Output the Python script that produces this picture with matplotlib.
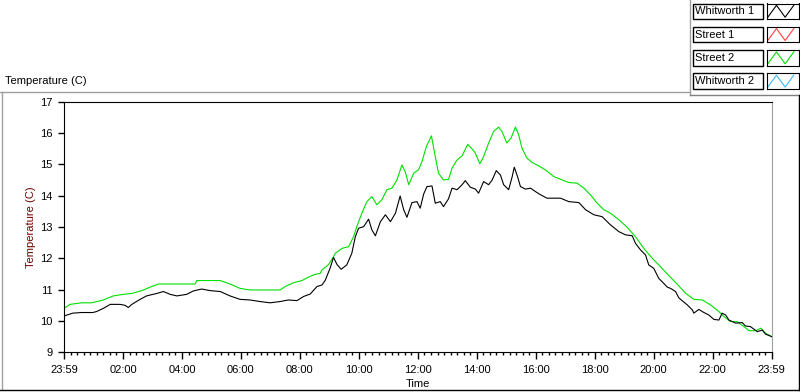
import matplotlib
matplotlib.use('Agg')
import matplotlib.pyplot as plt
from matplotlib.lines import Line2D
from matplotlib.patches import Rectangle
from matplotlib.ticker import MultipleLocator

# data (hours since 23:59, deg C)
w1_t = [0.0, 0.3, 0.6, 0.98, 1.1, 1.33, 1.57, 1.9, 2.07, 2.18, 2.3, 2.58, 2.8, 3.15,
        3.37, 3.6, 3.83, 4.16, 4.39, 4.67, 4.95, 5.3, 5.63, 5.97, 6.31, 6.65, 6.99,
        7.33, 7.6, 7.9, 8.12, 8.35, 8.58, 8.75, 8.86, 9.03, 9.14, 9.26, 9.4, 9.59,
        9.76, 9.88, 9.99, 10.16, 10.33, 10.44, 10.56, 10.73, 10.9, 11.07, 11.24,
        11.4, 11.52, 11.63, 11.8, 11.97, 12.08, 12.2, 12.31, 12.48, 12.59, 12.76,
        12.87, 13.04, 13.16, 13.33, 13.5, 13.61, 13.78, 13.95, 14.06, 14.23, 14.4,
        14.52, 14.66, 14.8, 14.91, 15.08, 15.2, 15.27, 15.38, 15.48, 15.65, 15.82,
        15.99, 16.16, 16.38, 16.61, 16.84, 17.12, 17.46, 17.69, 17.97, 18.25, 18.53,
        18.82, 19.04, 19.27, 19.38, 19.55, 19.72, 19.83, 20.0, 20.17, 20.34, 20.46,
        20.57, 20.74, 20.85, 20.91, 21.14, 21.31, 21.36, 21.53, 21.7, 21.87, 22.04,
        22.21, 22.32, 22.44, 22.55, 22.78, 23.0, 23.11, 23.28, 23.51, 23.68, 23.79, 24.0]
w1_v = [10.16, 10.25, 10.27, 10.27, 10.3, 10.4, 10.53, 10.53, 10.5, 10.43, 10.53, 10.69,
        10.8, 10.88, 10.94, 10.85, 10.8, 10.85, 10.96, 11.02, 10.97, 10.94, 10.8, 10.69,
        10.67, 10.62, 10.58, 10.62, 10.67, 10.65, 10.78, 10.86, 11.1, 11.15, 11.3, 11.7,
        12.03, 11.8, 11.65, 11.79, 12.16, 12.69, 12.96, 13.01, 13.25, 12.91, 12.72, 13.17,
        13.39, 13.17, 13.44, 13.99, 13.55, 13.31, 13.78, 13.81, 13.6, 14.06, 14.29, 14.31,
        13.76, 13.81, 13.65, 13.9, 14.24, 14.19, 14.35, 14.48, 14.27, 14.21, 14.08, 14.45,
        14.35, 14.5, 14.8, 14.66, 14.35, 14.19, 14.61, 14.91, 14.61, 14.29, 14.21, 14.24,
        14.13, 14.03, 13.92, 13.92, 13.92, 13.81, 13.78, 13.55, 13.39, 13.33, 13.07, 12.85,
        12.75, 12.72, 12.48, 12.27, 12.11, 11.79, 11.68, 11.36, 11.2, 11.08, 11.04, 10.94,
        10.74, 10.69, 10.51, 10.35, 10.25, 10.37, 10.27, 10.19, 10.05, 10.03, 10.25, 10.19,
        10.03, 9.93, 9.95, 9.84, 9.82, 9.66, 9.71, 9.58, 9.5]

s2_t = [0.0, 0.2, 0.6, 0.94, 1.33, 1.67, 2.01, 2.3, 2.64, 2.92, 3.2, 4.45, 4.5, 5.3,
        5.63, 5.97, 6.31, 7.33, 7.5, 7.78, 8.07, 8.29, 8.52, 8.69, 8.75, 8.97, 9.14,
        9.2, 9.43, 9.65, 9.82, 9.93, 10.1, 10.27, 10.44, 10.61, 10.78, 10.95, 11.12,
        11.29, 11.46, 11.57, 11.69, 11.86, 12.02, 12.14, 12.29, 12.46, 12.59, 12.7,
        12.87, 13.04, 13.16, 13.33, 13.5, 13.69, 13.84, 13.95, 14.1, 14.23, 14.4,
        14.57, 14.74, 14.85, 15.02, 15.16, 15.31, 15.42, 15.53, 15.7, 15.87, 16.1,
        16.33, 16.61, 16.9, 17.12, 17.4, 17.63, 17.85, 18.08, 18.31, 18.53, 18.82,
        19.1, 19.38, 19.66, 19.95, 20.23, 20.51, 20.8, 21.08, 21.36, 21.65, 21.93,
        22.21, 22.38, 22.6, 22.83, 23.06, 23.23, 23.46, 23.63, 23.79, 24.0]
s2_v = [10.4, 10.53, 10.58, 10.58, 10.67, 10.8, 10.85, 10.88, 10.97, 11.08, 11.18, 11.18,
        11.29, 11.29, 11.18, 11.04, 10.99, 10.99, 11.1, 11.22, 11.29, 11.4, 11.49, 11.52,
        11.63, 11.8, 12.05, 12.16, 12.32, 12.37, 12.69, 13.01, 13.44, 13.81, 13.97, 13.71,
        13.87, 14.19, 14.24, 14.5, 14.98, 14.77, 14.35, 14.72, 14.82, 15.09, 15.57, 15.91,
        15.25, 14.72, 14.5, 14.52, 14.88, 15.14, 15.27, 15.64, 15.49, 15.36, 15.02, 15.25,
        15.68, 16.05, 16.19, 16.05, 15.68, 15.84, 16.19, 15.94, 15.52, 15.2, 15.06, 14.95,
        14.82, 14.61, 14.5, 14.42, 14.4, 14.24, 14.03, 13.76, 13.55, 13.44, 13.23, 12.99,
        12.69, 12.32, 12.0, 11.73, 11.45, 11.17, 10.88, 10.69, 10.67, 10.51, 10.3, 10.14,
        9.98, 9.98, 9.82, 9.69, 9.69, 9.77, 9.61, 9.5]

tick_hours = list(range(0, 25, 2))
tick_labels = ['23:59', '02:00', '04:00', '06:00', '08:00', '10:00', '12:00',
               '14:00', '16:00', '18:00', '20:00', '22:00', '23:59']

legend_names = ['Whitworth 1', 'Street 1', 'Street 2', 'Whitworth 2']
legend_colors = ['black', '#ff4040', '#00e000', '#3cb8ff']

plt.rcParams['font.family'] = ['Liberation Sans', 'DejaVu Sans']
plt.rcParams['font.size'] = 8

W, H = 800, 392
fig = plt.figure(figsize=(8, 3.92), dpi=100)


def fx(x):
    return x / W


def fy(y):
    return 1 - y / H


def fline(xs, ys, color, lw=1):
    fig.add_artist(Line2D([fx(x) for x in xs], [fy(y) for y in ys],
                          transform=fig.transFigure, color=color, lw=lw))


# panel frame
fline([1.5, 1.5], [91.5, 390], '#a0a0a0')
fline([0, 689.5], [91.5, 91.5], '#a0a0a0')
fline([689.5, 689.5], [0, 95], '#a0a0a0')
fline([689.5, 800], [95, 95], '#808080')
fline([0, 798.5], [390, 390], 'black')
fline([798.5, 798.5], [95, 390], 'black')
fig.text(fx(5), fy(81), 'Temperature (C)', va='center', ha='left', fontsize=8)

# main plot
ax = fig.add_axes([fx(64), fy(352.3), fx(771.7) - fx(64), fy(101.7) - fy(352.3)])
ax.plot(s2_t, s2_v, color='#00e000', lw=0.8)
ax.plot(w1_t, w1_v, color='black', lw=0.8)
ax.set_xlim(0, 24)
ax.set_ylim(9, 17)
ax.set_xticks(tick_hours)
ax.set_xticklabels(tick_labels)
ax.xaxis.set_minor_locator(MultipleLocator(2 / 9))
ax.tick_params(axis='y', which='major', direction='out', length=4, width=1, pad=4)
ax.tick_params(axis='x', which='major', direction='out', length=5, width=1, pad=4)
ax.tick_params(axis='x', which='minor', direction='out', length=2.5, width=1)
for s in ['left', 'bottom', 'top']:
    ax.spines[s].set_color('black')
ax.spines['right'].set_color('#a0a0a0')
ax.set_xlabel('Time', labelpad=3)
ax.set_ylabel('Temperature (C)', color='#700000', labelpad=3)

# legend boxes
for i, (name, col) in enumerate(zip(legend_names, legend_colors)):
    top = 3.5 + i * 23.3
    bot = top + 15.5
    fig.add_artist(Rectangle((fx(692.5), fy(bot)), fx(762.5) - fx(692.5), fy(top) - fy(bot),
                             transform=fig.transFigure, facecolor='white',
                             edgecolor='black', lw=1))
    fig.text(fx(695), fy((top + bot) / 2), name, va='center', ha='left', fontsize=8)
    iax = fig.add_axes([fx(766.5), fy(bot), fx(799) - fx(766.5), fy(top) - fy(bot)])
    iax.plot([0, 1, 2, 3], [0, 1, 0, 1], color=col, lw=0.8)
    iax.set_xlim(-0.15, 3.6)
    iax.set_ylim(-0.15, 1.15)
    iax.set_xticks([])
    iax.set_yticks([])
    for s in iax.spines.values():
        s.set_color('black')

fig.savefig('out.png', dpi=100)
